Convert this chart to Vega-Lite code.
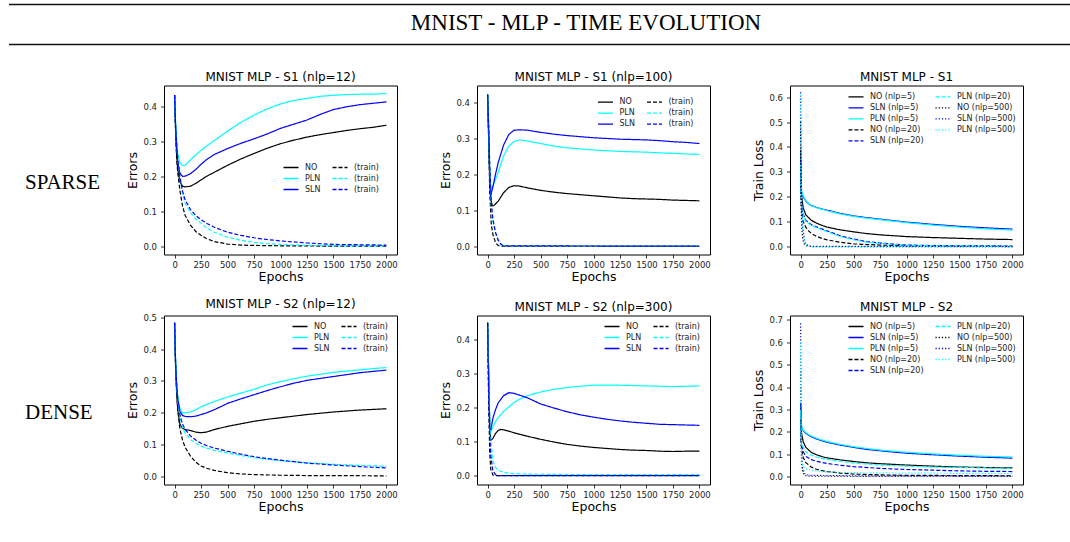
{
"$schema": "https://vega.github.io/schema/vega-lite/v6.json",
"background": "white",
"padding": {"left": 8, "top": 3.5, "right": 0, "bottom": 0},
"spacing": 24,
"config": {
 "font": "DejaVu Sans",
 "view": {"stroke": "#000", "strokeWidth": 1},
 "axis": {"domain": false, "grid": false, "tickColor": "#000", "tickSize": 3.5, "tickWidth": 0.8, "labelFont": "DejaVu Sans", "labelFontSize": 8.5, "labelColor": "#222", "labelPadding": 2, "titleFont": "DejaVu Sans", "titleFontSize": 12.5, "titleFontWeight": "normal", "titleColor": "#000", "titlePadding": 2, "labelFlush": false, "labelOverlap": false},
 "axisY": {"labelPadding": 4, "titlePadding": 3},
 "title": {"font": "DejaVu Sans", "fontSize": 12, "fontWeight": "normal", "offset": 2, "color": "#000"},
 "legend": {"labelFont": "DejaVu Sans", "labelFontSize": 8, "labelColor": "#222"}
},
"datasets": {
"d1": [
{"s":"NO","x":0,"y":0.434},{"s":"NO","x":10,"y":0.33},{"s":"NO","x":20,"y":0.26},{"s":"NO","x":30,"y":0.22},{"s":"NO","x":50,"y":0.185},{"s":"NO","x":75,"y":0.172},{"s":"NO","x":100,"y":0.17},{"s":"NO","x":150,"y":0.172},{"s":"NO","x":200,"y":0.18},{"s":"NO","x":250,"y":0.19},{"s":"NO","x":300,"y":0.2},{"s":"NO","x":375,"y":0.212},{"s":"NO","x":500,"y":0.232},{"s":"NO","x":625,"y":0.25},{"s":"NO","x":750,"y":0.266},{"s":"NO","x":875,"y":0.281},{"s":"NO","x":1000,"y":0.294},{"s":"NO","x":1125,"y":0.304},{"s":"NO","x":1250,"y":0.313},{"s":"NO","x":1375,"y":0.32},{"s":"NO","x":1500,"y":0.326},{"s":"NO","x":1625,"y":0.332},{"s":"NO","x":1750,"y":0.337},{"s":"NO","x":1875,"y":0.341},{"s":"NO","x":2000,"y":0.347},
{"s":"PLN","x":0,"y":0.434},{"s":"PLN","x":10,"y":0.35},{"s":"PLN","x":20,"y":0.3},{"s":"PLN","x":30,"y":0.265},{"s":"PLN","x":50,"y":0.24},{"s":"PLN","x":75,"y":0.231},{"s":"PLN","x":100,"y":0.232},{"s":"PLN","x":150,"y":0.248},{"s":"PLN","x":200,"y":0.262},{"s":"PLN","x":250,"y":0.275},{"s":"PLN","x":300,"y":0.287},{"s":"PLN","x":375,"y":0.303},{"s":"PLN","x":500,"y":0.33},{"s":"PLN","x":625,"y":0.355},{"s":"PLN","x":750,"y":0.376},{"s":"PLN","x":875,"y":0.394},{"s":"PLN","x":1000,"y":0.408},{"s":"PLN","x":1125,"y":0.418},{"s":"PLN","x":1250,"y":0.424},{"s":"PLN","x":1375,"y":0.43},{"s":"PLN","x":1500,"y":0.433},{"s":"PLN","x":1625,"y":0.435},{"s":"PLN","x":1750,"y":0.436},{"s":"PLN","x":1875,"y":0.436},{"s":"PLN","x":2000,"y":0.438},
{"s":"SLN","x":0,"y":0.434},{"s":"SLN","x":10,"y":0.34},{"s":"SLN","x":20,"y":0.28},{"s":"SLN","x":30,"y":0.24},{"s":"SLN","x":50,"y":0.21},{"s":"SLN","x":75,"y":0.2},{"s":"SLN","x":100,"y":0.201},{"s":"SLN","x":150,"y":0.208},{"s":"SLN","x":200,"y":0.22},{"s":"SLN","x":250,"y":0.235},{"s":"SLN","x":300,"y":0.248},{"s":"SLN","x":375,"y":0.263},{"s":"SLN","x":500,"y":0.28},{"s":"SLN","x":625,"y":0.295},{"s":"SLN","x":750,"y":0.308},{"s":"SLN","x":875,"y":0.322},{"s":"SLN","x":1000,"y":0.338},{"s":"SLN","x":1125,"y":0.35},{"s":"SLN","x":1250,"y":0.362},{"s":"SLN","x":1375,"y":0.378},{"s":"SLN","x":1500,"y":0.392},{"s":"SLN","x":1625,"y":0.4},{"s":"SLN","x":1750,"y":0.406},{"s":"SLN","x":1875,"y":0.41},{"s":"SLN","x":2000,"y":0.414},
{"s":"NO (train)","x":0,"y":0.434},{"s":"NO (train)","x":10,"y":0.32},{"s":"NO (train)","x":20,"y":0.25},{"s":"NO (train)","x":30,"y":0.21},{"s":"NO (train)","x":50,"y":0.16},{"s":"NO (train)","x":75,"y":0.115},{"s":"NO (train)","x":100,"y":0.088},{"s":"NO (train)","x":150,"y":0.06},{"s":"NO (train)","x":200,"y":0.042},{"s":"NO (train)","x":250,"y":0.031},{"s":"NO (train)","x":300,"y":0.022},{"s":"NO (train)","x":375,"y":0.013},{"s":"NO (train)","x":500,"y":0.006},{"s":"NO (train)","x":625,"y":0.003},{"s":"NO (train)","x":750,"y":0.002},{"s":"NO (train)","x":1000,"y":0.001},{"s":"NO (train)","x":1500,"y":0.0},{"s":"NO (train)","x":2000,"y":0.0},
{"s":"PLN (train)","x":0,"y":0.434},{"s":"PLN (train)","x":10,"y":0.34},{"s":"PLN (train)","x":20,"y":0.29},{"s":"PLN (train)","x":30,"y":0.25},{"s":"PLN (train)","x":50,"y":0.195},{"s":"PLN (train)","x":75,"y":0.15},{"s":"PLN (train)","x":100,"y":0.122},{"s":"PLN (train)","x":150,"y":0.097},{"s":"PLN (train)","x":200,"y":0.078},{"s":"PLN (train)","x":250,"y":0.066},{"s":"PLN (train)","x":300,"y":0.053},{"s":"PLN (train)","x":375,"y":0.04},{"s":"PLN (train)","x":500,"y":0.026},{"s":"PLN (train)","x":625,"y":0.017},{"s":"PLN (train)","x":750,"y":0.011},{"s":"PLN (train)","x":875,"y":0.007},{"s":"PLN (train)","x":1000,"y":0.005},{"s":"PLN (train)","x":1250,"y":0.002},{"s":"PLN (train)","x":1500,"y":0.001},{"s":"PLN (train)","x":2000,"y":0.001},
{"s":"SLN (train)","x":0,"y":0.434},{"s":"SLN (train)","x":10,"y":0.34},{"s":"SLN (train)","x":20,"y":0.29},{"s":"SLN (train)","x":30,"y":0.25},{"s":"SLN (train)","x":50,"y":0.2},{"s":"SLN (train)","x":75,"y":0.158},{"s":"SLN (train)","x":100,"y":0.132},{"s":"SLN (train)","x":150,"y":0.105},{"s":"SLN (train)","x":200,"y":0.088},{"s":"SLN (train)","x":250,"y":0.076},{"s":"SLN (train)","x":300,"y":0.066},{"s":"SLN (train)","x":375,"y":0.054},{"s":"SLN (train)","x":500,"y":0.04},{"s":"SLN (train)","x":625,"y":0.031},{"s":"SLN (train)","x":750,"y":0.024},{"s":"SLN (train)","x":875,"y":0.019},{"s":"SLN (train)","x":1000,"y":0.015},{"s":"SLN (train)","x":1250,"y":0.009},{"s":"SLN (train)","x":1500,"y":0.005},{"s":"SLN (train)","x":1750,"y":0.004},{"s":"SLN (train)","x":2000,"y":0.003}
],
"d2": [
{"s":"NO","x":0,"y":0.421},{"s":"NO","x":10,"y":0.3},{"s":"NO","x":20,"y":0.19},{"s":"NO","x":30,"y":0.13},{"s":"NO","x":45,"y":0.112},{"s":"NO","x":60,"y":0.113},{"s":"NO","x":100,"y":0.125},{"s":"NO","x":150,"y":0.148},{"s":"NO","x":200,"y":0.163},{"s":"NO","x":250,"y":0.168},{"s":"NO","x":300,"y":0.167},{"s":"NO","x":375,"y":0.162},{"s":"NO","x":500,"y":0.155},{"s":"NO","x":625,"y":0.15},{"s":"NO","x":750,"y":0.146},{"s":"NO","x":875,"y":0.143},{"s":"NO","x":1000,"y":0.14},{"s":"NO","x":1125,"y":0.137},{"s":"NO","x":1250,"y":0.134},{"s":"NO","x":1375,"y":0.132},{"s":"NO","x":1500,"y":0.131},{"s":"NO","x":1625,"y":0.13},{"s":"NO","x":1750,"y":0.128},{"s":"NO","x":1875,"y":0.127},{"s":"NO","x":2000,"y":0.126},
{"s":"PLN","x":0,"y":0.421},{"s":"PLN","x":10,"y":0.32},{"s":"PLN","x":20,"y":0.2},{"s":"PLN","x":30,"y":0.148},{"s":"PLN","x":50,"y":0.165},{"s":"PLN","x":75,"y":0.185},{"s":"PLN","x":100,"y":0.205},{"s":"PLN","x":150,"y":0.25},{"s":"PLN","x":200,"y":0.278},{"s":"PLN","x":250,"y":0.291},{"s":"PLN","x":300,"y":0.295},{"s":"PLN","x":375,"y":0.292},{"s":"PLN","x":500,"y":0.285},{"s":"PLN","x":625,"y":0.278},{"s":"PLN","x":750,"y":0.273},{"s":"PLN","x":875,"y":0.27},{"s":"PLN","x":1000,"y":0.267},{"s":"PLN","x":1125,"y":0.265},{"s":"PLN","x":1250,"y":0.263},{"s":"PLN","x":1375,"y":0.262},{"s":"PLN","x":1500,"y":0.261},{"s":"PLN","x":1625,"y":0.259},{"s":"PLN","x":1750,"y":0.258},{"s":"PLN","x":1875,"y":0.256},{"s":"PLN","x":2000,"y":0.255},
{"s":"SLN","x":0,"y":0.421},{"s":"SLN","x":10,"y":0.32},{"s":"SLN","x":20,"y":0.2},{"s":"SLN","x":30,"y":0.14},{"s":"SLN","x":50,"y":0.165},{"s":"SLN","x":75,"y":0.2},{"s":"SLN","x":100,"y":0.232},{"s":"SLN","x":150,"y":0.28},{"s":"SLN","x":200,"y":0.31},{"s":"SLN","x":250,"y":0.322},{"s":"SLN","x":300,"y":0.323},{"s":"SLN","x":375,"y":0.322},{"s":"SLN","x":500,"y":0.316},{"s":"SLN","x":625,"y":0.311},{"s":"SLN","x":750,"y":0.307},{"s":"SLN","x":875,"y":0.304},{"s":"SLN","x":1000,"y":0.301},{"s":"SLN","x":1125,"y":0.299},{"s":"SLN","x":1250,"y":0.297},{"s":"SLN","x":1375,"y":0.296},{"s":"SLN","x":1500,"y":0.295},{"s":"SLN","x":1625,"y":0.293},{"s":"SLN","x":1750,"y":0.29},{"s":"SLN","x":1875,"y":0.288},{"s":"SLN","x":2000,"y":0.285},
{"s":"NO (train)","x":0,"y":0.421},{"s":"NO (train)","x":10,"y":0.3},{"s":"NO (train)","x":20,"y":0.15},{"s":"NO (train)","x":35,"y":0.06},{"s":"NO (train)","x":50,"y":0.033},{"s":"NO (train)","x":75,"y":0.01},{"s":"NO (train)","x":100,"y":0.002},{"s":"NO (train)","x":125,"y":0.0},{"s":"NO (train)","x":2000,"y":0.0},
{"s":"PLN (train)","x":0,"y":0.421},{"s":"PLN (train)","x":10,"y":0.33},{"s":"PLN (train)","x":20,"y":0.22},{"s":"PLN (train)","x":35,"y":0.11},{"s":"PLN (train)","x":50,"y":0.07},{"s":"PLN (train)","x":75,"y":0.035},{"s":"PLN (train)","x":100,"y":0.015},{"s":"PLN (train)","x":125,"y":0.005},{"s":"PLN (train)","x":150,"y":0.001},{"s":"PLN (train)","x":2000,"y":0.0},
{"s":"SLN (train)","x":0,"y":0.421},{"s":"SLN (train)","x":10,"y":0.34},{"s":"SLN (train)","x":20,"y":0.23},{"s":"SLN (train)","x":35,"y":0.12},{"s":"SLN (train)","x":50,"y":0.075},{"s":"SLN (train)","x":75,"y":0.038},{"s":"SLN (train)","x":100,"y":0.017},{"s":"SLN (train)","x":125,"y":0.006},{"s":"SLN (train)","x":150,"y":0.001},{"s":"SLN (train)","x":2000,"y":0.0}
],
"d3": [
{"s":"NO (nlp=5)","x":0,"y":0.388},{"s":"NO (nlp=5)","x":5,"y":0.25},{"s":"NO (nlp=5)","x":10,"y":0.2},{"s":"NO (nlp=5)","x":25,"y":0.155},{"s":"NO (nlp=5)","x":50,"y":0.127},{"s":"NO (nlp=5)","x":100,"y":0.106},{"s":"NO (nlp=5)","x":150,"y":0.094},{"s":"NO (nlp=5)","x":200,"y":0.085},{"s":"NO (nlp=5)","x":250,"y":0.078},{"s":"NO (nlp=5)","x":375,"y":0.067},{"s":"NO (nlp=5)","x":500,"y":0.059},{"s":"NO (nlp=5)","x":625,"y":0.052},{"s":"NO (nlp=5)","x":750,"y":0.047},{"s":"NO (nlp=5)","x":1000,"y":0.04},{"s":"NO (nlp=5)","x":1250,"y":0.036},{"s":"NO (nlp=5)","x":1500,"y":0.033},{"s":"NO (nlp=5)","x":1750,"y":0.03},{"s":"NO (nlp=5)","x":2000,"y":0.028},
{"s":"SLN (nlp=5)","x":0,"y":0.28},{"s":"SLN (nlp=5)","x":5,"y":0.23},{"s":"SLN (nlp=5)","x":10,"y":0.216},{"s":"SLN (nlp=5)","x":25,"y":0.2},{"s":"SLN (nlp=5)","x":50,"y":0.182},{"s":"SLN (nlp=5)","x":75,"y":0.172},{"s":"SLN (nlp=5)","x":100,"y":0.165},{"s":"SLN (nlp=5)","x":150,"y":0.157},{"s":"SLN (nlp=5)","x":200,"y":0.151},{"s":"SLN (nlp=5)","x":250,"y":0.146},{"s":"SLN (nlp=5)","x":375,"y":0.133},{"s":"SLN (nlp=5)","x":500,"y":0.123},{"s":"SLN (nlp=5)","x":625,"y":0.116},{"s":"SLN (nlp=5)","x":750,"y":0.11},{"s":"SLN (nlp=5)","x":875,"y":0.104},{"s":"SLN (nlp=5)","x":1000,"y":0.098},{"s":"SLN (nlp=5)","x":1250,"y":0.089},{"s":"SLN (nlp=5)","x":1500,"y":0.081},{"s":"SLN (nlp=5)","x":1750,"y":0.075},{"s":"SLN (nlp=5)","x":2000,"y":0.07},
{"s":"PLN (nlp=5)","x":0,"y":0.3},{"s":"PLN (nlp=5)","x":5,"y":0.235},{"s":"PLN (nlp=5)","x":10,"y":0.22},{"s":"PLN (nlp=5)","x":25,"y":0.203},{"s":"PLN (nlp=5)","x":50,"y":0.184},{"s":"PLN (nlp=5)","x":75,"y":0.173},{"s":"PLN (nlp=5)","x":100,"y":0.165},{"s":"PLN (nlp=5)","x":150,"y":0.156},{"s":"PLN (nlp=5)","x":200,"y":0.15},{"s":"PLN (nlp=5)","x":250,"y":0.144},{"s":"PLN (nlp=5)","x":375,"y":0.131},{"s":"PLN (nlp=5)","x":500,"y":0.121},{"s":"PLN (nlp=5)","x":625,"y":0.114},{"s":"PLN (nlp=5)","x":750,"y":0.108},{"s":"PLN (nlp=5)","x":875,"y":0.102},{"s":"PLN (nlp=5)","x":1000,"y":0.096},{"s":"PLN (nlp=5)","x":1250,"y":0.086},{"s":"PLN (nlp=5)","x":1500,"y":0.078},{"s":"PLN (nlp=5)","x":1750,"y":0.071},{"s":"PLN (nlp=5)","x":2000,"y":0.066},
{"s":"NO (nlp=20)","x":0,"y":0.3},{"s":"NO (nlp=20)","x":5,"y":0.18},{"s":"NO (nlp=20)","x":10,"y":0.14},{"s":"NO (nlp=20)","x":25,"y":0.1},{"s":"NO (nlp=20)","x":50,"y":0.077},{"s":"NO (nlp=20)","x":75,"y":0.063},{"s":"NO (nlp=20)","x":100,"y":0.053},{"s":"NO (nlp=20)","x":150,"y":0.041},{"s":"NO (nlp=20)","x":200,"y":0.033},{"s":"NO (nlp=20)","x":250,"y":0.027},{"s":"NO (nlp=20)","x":375,"y":0.017},{"s":"NO (nlp=20)","x":500,"y":0.011},{"s":"NO (nlp=20)","x":625,"y":0.008},{"s":"NO (nlp=20)","x":750,"y":0.006},{"s":"NO (nlp=20)","x":1000,"y":0.003},{"s":"NO (nlp=20)","x":1500,"y":0.001},{"s":"NO (nlp=20)","x":2000,"y":0.001},
{"s":"SLN (nlp=20)","x":0,"y":0.35},{"s":"SLN (nlp=20)","x":5,"y":0.2},{"s":"SLN (nlp=20)","x":10,"y":0.16},{"s":"SLN (nlp=20)","x":25,"y":0.13},{"s":"SLN (nlp=20)","x":50,"y":0.105},{"s":"SLN (nlp=20)","x":100,"y":0.088},{"s":"SLN (nlp=20)","x":150,"y":0.079},{"s":"SLN (nlp=20)","x":200,"y":0.071},{"s":"SLN (nlp=20)","x":250,"y":0.063},{"s":"SLN (nlp=20)","x":375,"y":0.043},{"s":"SLN (nlp=20)","x":500,"y":0.03},{"s":"SLN (nlp=20)","x":625,"y":0.02},{"s":"SLN (nlp=20)","x":750,"y":0.014},{"s":"SLN (nlp=20)","x":875,"y":0.01},{"s":"SLN (nlp=20)","x":1000,"y":0.006},{"s":"SLN (nlp=20)","x":1250,"y":0.004},{"s":"SLN (nlp=20)","x":1500,"y":0.003},{"s":"SLN (nlp=20)","x":2000,"y":0.002},
{"s":"PLN (nlp=20)","x":0,"y":0.33},{"s":"PLN (nlp=20)","x":5,"y":0.19},{"s":"PLN (nlp=20)","x":10,"y":0.155},{"s":"PLN (nlp=20)","x":25,"y":0.125},{"s":"PLN (nlp=20)","x":50,"y":0.1},{"s":"PLN (nlp=20)","x":100,"y":0.085},{"s":"PLN (nlp=20)","x":150,"y":0.076},{"s":"PLN (nlp=20)","x":200,"y":0.068},{"s":"PLN (nlp=20)","x":250,"y":0.06},{"s":"PLN (nlp=20)","x":375,"y":0.04},{"s":"PLN (nlp=20)","x":500,"y":0.027},{"s":"PLN (nlp=20)","x":625,"y":0.018},{"s":"PLN (nlp=20)","x":750,"y":0.012},{"s":"PLN (nlp=20)","x":1000,"y":0.005},{"s":"PLN (nlp=20)","x":1250,"y":0.003},{"s":"PLN (nlp=20)","x":2000,"y":0.001},
{"s":"NO (nlp=500)","x":0,"y":0.5},{"s":"NO (nlp=500)","x":3,"y":0.3},{"s":"NO (nlp=500)","x":6,"y":0.15},{"s":"NO (nlp=500)","x":10,"y":0.08},{"s":"NO (nlp=500)","x":20,"y":0.03},{"s":"NO (nlp=500)","x":35,"y":0.01},{"s":"NO (nlp=500)","x":50,"y":0.004},{"s":"NO (nlp=500)","x":75,"y":0.001},{"s":"NO (nlp=500)","x":100,"y":0.0},{"s":"NO (nlp=500)","x":2000,"y":0.0},
{"s":"SLN (nlp=500)","x":0,"y":0.62},{"s":"SLN (nlp=500)","x":3,"y":0.45},{"s":"SLN (nlp=500)","x":6,"y":0.3},{"s":"SLN (nlp=500)","x":10,"y":0.2},{"s":"SLN (nlp=500)","x":20,"y":0.08},{"s":"SLN (nlp=500)","x":35,"y":0.03},{"s":"SLN (nlp=500)","x":50,"y":0.01},{"s":"SLN (nlp=500)","x":75,"y":0.003},{"s":"SLN (nlp=500)","x":100,"y":0.001},{"s":"SLN (nlp=500)","x":2000,"y":0.0},
{"s":"PLN (nlp=500)","x":0,"y":0.61},{"s":"PLN (nlp=500)","x":3,"y":0.4},{"s":"PLN (nlp=500)","x":6,"y":0.27},{"s":"PLN (nlp=500)","x":10,"y":0.18},{"s":"PLN (nlp=500)","x":20,"y":0.07},{"s":"PLN (nlp=500)","x":35,"y":0.025},{"s":"PLN (nlp=500)","x":50,"y":0.008},{"s":"PLN (nlp=500)","x":75,"y":0.002},{"s":"PLN (nlp=500)","x":100,"y":0.0},{"s":"PLN (nlp=500)","x":2000,"y":0.0}
],
"d4": [
{"s":"NO","x":0,"y":0.482},{"s":"NO","x":10,"y":0.34},{"s":"NO","x":20,"y":0.26},{"s":"NO","x":30,"y":0.21},{"s":"NO","x":50,"y":0.165},{"s":"NO","x":75,"y":0.152},{"s":"NO","x":100,"y":0.148},{"s":"NO","x":150,"y":0.145},{"s":"NO","x":200,"y":0.14},{"s":"NO","x":250,"y":0.138},{"s":"NO","x":300,"y":0.14},{"s":"NO","x":375,"y":0.148},{"s":"NO","x":500,"y":0.158},{"s":"NO","x":625,"y":0.166},{"s":"NO","x":750,"y":0.174},{"s":"NO","x":875,"y":0.18},{"s":"NO","x":1000,"y":0.185},{"s":"NO","x":1125,"y":0.19},{"s":"NO","x":1250,"y":0.195},{"s":"NO","x":1375,"y":0.199},{"s":"NO","x":1500,"y":0.203},{"s":"NO","x":1625,"y":0.206},{"s":"NO","x":1750,"y":0.209},{"s":"NO","x":1875,"y":0.211},{"s":"NO","x":2000,"y":0.213},
{"s":"PLN","x":0,"y":0.482},{"s":"PLN","x":10,"y":0.36},{"s":"PLN","x":20,"y":0.29},{"s":"PLN","x":30,"y":0.25},{"s":"PLN","x":50,"y":0.215},{"s":"PLN","x":75,"y":0.2},{"s":"PLN","x":100,"y":0.2},{"s":"PLN","x":150,"y":0.203},{"s":"PLN","x":200,"y":0.21},{"s":"PLN","x":250,"y":0.219},{"s":"PLN","x":300,"y":0.226},{"s":"PLN","x":375,"y":0.236},{"s":"PLN","x":500,"y":0.25},{"s":"PLN","x":625,"y":0.262},{"s":"PLN","x":750,"y":0.274},{"s":"PLN","x":875,"y":0.288},{"s":"PLN","x":1000,"y":0.298},{"s":"PLN","x":1125,"y":0.307},{"s":"PLN","x":1250,"y":0.315},{"s":"PLN","x":1375,"y":0.321},{"s":"PLN","x":1500,"y":0.327},{"s":"PLN","x":1625,"y":0.331},{"s":"PLN","x":1750,"y":0.335},{"s":"PLN","x":1875,"y":0.339},{"s":"PLN","x":2000,"y":0.342},
{"s":"SLN","x":0,"y":0.482},{"s":"SLN","x":10,"y":0.35},{"s":"SLN","x":20,"y":0.28},{"s":"SLN","x":30,"y":0.24},{"s":"SLN","x":50,"y":0.205},{"s":"SLN","x":75,"y":0.192},{"s":"SLN","x":100,"y":0.189},{"s":"SLN","x":150,"y":0.188},{"s":"SLN","x":200,"y":0.19},{"s":"SLN","x":250,"y":0.195},{"s":"SLN","x":300,"y":0.2},{"s":"SLN","x":375,"y":0.21},{"s":"SLN","x":500,"y":0.23},{"s":"SLN","x":625,"y":0.244},{"s":"SLN","x":750,"y":0.257},{"s":"SLN","x":875,"y":0.27},{"s":"SLN","x":1000,"y":0.282},{"s":"SLN","x":1125,"y":0.293},{"s":"SLN","x":1250,"y":0.302},{"s":"SLN","x":1375,"y":0.308},{"s":"SLN","x":1500,"y":0.314},{"s":"SLN","x":1625,"y":0.32},{"s":"SLN","x":1750,"y":0.326},{"s":"SLN","x":1875,"y":0.33},{"s":"SLN","x":2000,"y":0.334},
{"s":"NO (train)","x":0,"y":0.482},{"s":"NO (train)","x":10,"y":0.33},{"s":"NO (train)","x":20,"y":0.26},{"s":"NO (train)","x":30,"y":0.21},{"s":"NO (train)","x":50,"y":0.15},{"s":"NO (train)","x":75,"y":0.115},{"s":"NO (train)","x":100,"y":0.092},{"s":"NO (train)","x":150,"y":0.065},{"s":"NO (train)","x":200,"y":0.046},{"s":"NO (train)","x":250,"y":0.034},{"s":"NO (train)","x":300,"y":0.027},{"s":"NO (train)","x":375,"y":0.02},{"s":"NO (train)","x":500,"y":0.013},{"s":"NO (train)","x":625,"y":0.009},{"s":"NO (train)","x":750,"y":0.007},{"s":"NO (train)","x":1000,"y":0.005},{"s":"NO (train)","x":1250,"y":0.004},{"s":"NO (train)","x":1500,"y":0.004},{"s":"NO (train)","x":2000,"y":0.003},
{"s":"PLN (train)","x":0,"y":0.482},{"s":"PLN (train)","x":10,"y":0.35},{"s":"PLN (train)","x":20,"y":0.28},{"s":"PLN (train)","x":30,"y":0.235},{"s":"PLN (train)","x":50,"y":0.185},{"s":"PLN (train)","x":75,"y":0.155},{"s":"PLN (train)","x":100,"y":0.137},{"s":"PLN (train)","x":150,"y":0.117},{"s":"PLN (train)","x":200,"y":0.105},{"s":"PLN (train)","x":250,"y":0.096},{"s":"PLN (train)","x":300,"y":0.09},{"s":"PLN (train)","x":375,"y":0.083},{"s":"PLN (train)","x":500,"y":0.075},{"s":"PLN (train)","x":625,"y":0.067},{"s":"PLN (train)","x":750,"y":0.06},{"s":"PLN (train)","x":875,"y":0.055},{"s":"PLN (train)","x":1000,"y":0.051},{"s":"PLN (train)","x":1250,"y":0.044},{"s":"PLN (train)","x":1500,"y":0.039},{"s":"PLN (train)","x":1750,"y":0.036},{"s":"PLN (train)","x":2000,"y":0.033},
{"s":"SLN (train)","x":0,"y":0.482},{"s":"SLN (train)","x":10,"y":0.35},{"s":"SLN (train)","x":20,"y":0.29},{"s":"SLN (train)","x":30,"y":0.245},{"s":"SLN (train)","x":50,"y":0.195},{"s":"SLN (train)","x":75,"y":0.165},{"s":"SLN (train)","x":100,"y":0.148},{"s":"SLN (train)","x":150,"y":0.128},{"s":"SLN (train)","x":200,"y":0.115},{"s":"SLN (train)","x":250,"y":0.105},{"s":"SLN (train)","x":300,"y":0.098},{"s":"SLN (train)","x":375,"y":0.09},{"s":"SLN (train)","x":500,"y":0.08},{"s":"SLN (train)","x":625,"y":0.071},{"s":"SLN (train)","x":750,"y":0.063},{"s":"SLN (train)","x":875,"y":0.057},{"s":"SLN (train)","x":1000,"y":0.052},{"s":"SLN (train)","x":1250,"y":0.043},{"s":"SLN (train)","x":1500,"y":0.037},{"s":"SLN (train)","x":1750,"y":0.032},{"s":"SLN (train)","x":2000,"y":0.028}
],
"d5": [
{"s":"NO","x":0,"y":0.451},{"s":"NO","x":10,"y":0.3},{"s":"NO","x":20,"y":0.15},{"s":"NO","x":30,"y":0.105},{"s":"NO","x":50,"y":0.11},{"s":"NO","x":75,"y":0.125},{"s":"NO","x":100,"y":0.134},{"s":"NO","x":125,"y":0.137},{"s":"NO","x":150,"y":0.136},{"s":"NO","x":200,"y":0.132},{"s":"NO","x":250,"y":0.127},{"s":"NO","x":375,"y":0.117},{"s":"NO","x":500,"y":0.108},{"s":"NO","x":625,"y":0.1},{"s":"NO","x":750,"y":0.093},{"s":"NO","x":875,"y":0.088},{"s":"NO","x":1000,"y":0.084},{"s":"NO","x":1125,"y":0.081},{"s":"NO","x":1250,"y":0.078},{"s":"NO","x":1375,"y":0.076},{"s":"NO","x":1500,"y":0.075},{"s":"NO","x":1625,"y":0.073},{"s":"NO","x":1750,"y":0.072},{"s":"NO","x":1875,"y":0.073},{"s":"NO","x":2000,"y":0.073},
{"s":"PLN","x":0,"y":0.451},{"s":"PLN","x":10,"y":0.3},{"s":"PLN","x":20,"y":0.15},{"s":"PLN","x":30,"y":0.13},{"s":"PLN","x":50,"y":0.145},{"s":"PLN","x":75,"y":0.16},{"s":"PLN","x":100,"y":0.172},{"s":"PLN","x":150,"y":0.19},{"s":"PLN","x":200,"y":0.203},{"s":"PLN","x":250,"y":0.216},{"s":"PLN","x":300,"y":0.226},{"s":"PLN","x":375,"y":0.236},{"s":"PLN","x":500,"y":0.247},{"s":"PLN","x":625,"y":0.255},{"s":"PLN","x":750,"y":0.26},{"s":"PLN","x":875,"y":0.264},{"s":"PLN","x":1000,"y":0.267},{"s":"PLN","x":1250,"y":0.267},{"s":"PLN","x":1500,"y":0.265},{"s":"PLN","x":1750,"y":0.263},{"s":"PLN","x":2000,"y":0.265},
{"s":"SLN","x":0,"y":0.451},{"s":"SLN","x":10,"y":0.3},{"s":"SLN","x":20,"y":0.15},{"s":"SLN","x":30,"y":0.135},{"s":"SLN","x":50,"y":0.17},{"s":"SLN","x":75,"y":0.195},{"s":"SLN","x":100,"y":0.215},{"s":"SLN","x":150,"y":0.236},{"s":"SLN","x":200,"y":0.245},{"s":"SLN","x":250,"y":0.243},{"s":"SLN","x":300,"y":0.238},{"s":"SLN","x":375,"y":0.23},{"s":"SLN","x":500,"y":0.212},{"s":"SLN","x":625,"y":0.2},{"s":"SLN","x":750,"y":0.189},{"s":"SLN","x":875,"y":0.18},{"s":"SLN","x":1000,"y":0.173},{"s":"SLN","x":1125,"y":0.167},{"s":"SLN","x":1250,"y":0.162},{"s":"SLN","x":1375,"y":0.158},{"s":"SLN","x":1500,"y":0.155},{"s":"SLN","x":1625,"y":0.152},{"s":"SLN","x":1750,"y":0.151},{"s":"SLN","x":1875,"y":0.15},{"s":"SLN","x":2000,"y":0.149},
{"s":"NO (train)","x":0,"y":0.451},{"s":"NO (train)","x":10,"y":0.22},{"s":"NO (train)","x":20,"y":0.07},{"s":"NO (train)","x":30,"y":0.02},{"s":"NO (train)","x":50,"y":0.003},{"s":"NO (train)","x":75,"y":0.001},{"s":"NO (train)","x":2000,"y":0.001},
{"s":"PLN (train)","x":0,"y":0.451},{"s":"PLN (train)","x":10,"y":0.3},{"s":"PLN (train)","x":25,"y":0.12},{"s":"PLN (train)","x":50,"y":0.045},{"s":"PLN (train)","x":75,"y":0.025},{"s":"PLN (train)","x":100,"y":0.017},{"s":"PLN (train)","x":150,"y":0.011},{"s":"PLN (train)","x":200,"y":0.008},{"s":"PLN (train)","x":300,"y":0.006},{"s":"PLN (train)","x":500,"y":0.005},{"s":"PLN (train)","x":1000,"y":0.004},{"s":"PLN (train)","x":2000,"y":0.004},
{"s":"SLN (train)","x":0,"y":0.451},{"s":"SLN (train)","x":10,"y":0.25},{"s":"SLN (train)","x":20,"y":0.12},{"s":"SLN (train)","x":30,"y":0.06},{"s":"SLN (train)","x":50,"y":0.015},{"s":"SLN (train)","x":75,"y":0.004},{"s":"SLN (train)","x":100,"y":0.001},{"s":"SLN (train)","x":2000,"y":0.001}
],
"d6": [
{"s":"NO (nlp=5)","x":0,"y":0.33},{"s":"NO (nlp=5)","x":5,"y":0.22},{"s":"NO (nlp=5)","x":10,"y":0.19},{"s":"NO (nlp=5)","x":25,"y":0.155},{"s":"NO (nlp=5)","x":50,"y":0.13},{"s":"NO (nlp=5)","x":100,"y":0.108},{"s":"NO (nlp=5)","x":150,"y":0.097},{"s":"NO (nlp=5)","x":200,"y":0.089},{"s":"NO (nlp=5)","x":250,"y":0.083},{"s":"NO (nlp=5)","x":375,"y":0.074},{"s":"NO (nlp=5)","x":500,"y":0.067},{"s":"NO (nlp=5)","x":625,"y":0.061},{"s":"NO (nlp=5)","x":750,"y":0.057},{"s":"NO (nlp=5)","x":1000,"y":0.051},{"s":"NO (nlp=5)","x":1250,"y":0.046},{"s":"NO (nlp=5)","x":1500,"y":0.042},{"s":"NO (nlp=5)","x":1750,"y":0.04},{"s":"NO (nlp=5)","x":2000,"y":0.038},
{"s":"SLN (nlp=5)","x":0,"y":0.33},{"s":"SLN (nlp=5)","x":5,"y":0.25},{"s":"SLN (nlp=5)","x":10,"y":0.22},{"s":"SLN (nlp=5)","x":25,"y":0.205},{"s":"SLN (nlp=5)","x":50,"y":0.193},{"s":"SLN (nlp=5)","x":75,"y":0.185},{"s":"SLN (nlp=5)","x":100,"y":0.178},{"s":"SLN (nlp=5)","x":150,"y":0.168},{"s":"SLN (nlp=5)","x":200,"y":0.16},{"s":"SLN (nlp=5)","x":250,"y":0.153},{"s":"SLN (nlp=5)","x":375,"y":0.14},{"s":"SLN (nlp=5)","x":500,"y":0.13},{"s":"SLN (nlp=5)","x":625,"y":0.121},{"s":"SLN (nlp=5)","x":750,"y":0.115},{"s":"SLN (nlp=5)","x":875,"y":0.109},{"s":"SLN (nlp=5)","x":1000,"y":0.104},{"s":"SLN (nlp=5)","x":1250,"y":0.097},{"s":"SLN (nlp=5)","x":1500,"y":0.091},{"s":"SLN (nlp=5)","x":1750,"y":0.086},{"s":"SLN (nlp=5)","x":2000,"y":0.082},
{"s":"PLN (nlp=5)","x":0,"y":0.28},{"s":"PLN (nlp=5)","x":5,"y":0.245},{"s":"PLN (nlp=5)","x":10,"y":0.222},{"s":"PLN (nlp=5)","x":25,"y":0.207},{"s":"PLN (nlp=5)","x":50,"y":0.196},{"s":"PLN (nlp=5)","x":75,"y":0.188},{"s":"PLN (nlp=5)","x":100,"y":0.181},{"s":"PLN (nlp=5)","x":150,"y":0.171},{"s":"PLN (nlp=5)","x":200,"y":0.163},{"s":"PLN (nlp=5)","x":250,"y":0.156},{"s":"PLN (nlp=5)","x":375,"y":0.143},{"s":"PLN (nlp=5)","x":500,"y":0.133},{"s":"PLN (nlp=5)","x":625,"y":0.125},{"s":"PLN (nlp=5)","x":750,"y":0.118},{"s":"PLN (nlp=5)","x":875,"y":0.113},{"s":"PLN (nlp=5)","x":1000,"y":0.108},{"s":"PLN (nlp=5)","x":1250,"y":0.101},{"s":"PLN (nlp=5)","x":1500,"y":0.095},{"s":"PLN (nlp=5)","x":1750,"y":0.09},{"s":"PLN (nlp=5)","x":2000,"y":0.087},
{"s":"NO (nlp=20)","x":0,"y":0.25},{"s":"NO (nlp=20)","x":5,"y":0.15},{"s":"NO (nlp=20)","x":10,"y":0.12},{"s":"NO (nlp=20)","x":25,"y":0.085},{"s":"NO (nlp=20)","x":50,"y":0.062},{"s":"NO (nlp=20)","x":100,"y":0.042},{"s":"NO (nlp=20)","x":150,"y":0.032},{"s":"NO (nlp=20)","x":200,"y":0.026},{"s":"NO (nlp=20)","x":250,"y":0.022},{"s":"NO (nlp=20)","x":375,"y":0.015},{"s":"NO (nlp=20)","x":500,"y":0.011},{"s":"NO (nlp=20)","x":750,"y":0.007},{"s":"NO (nlp=20)","x":1000,"y":0.005},{"s":"NO (nlp=20)","x":1500,"y":0.004},{"s":"NO (nlp=20)","x":2000,"y":0.003},
{"s":"SLN (nlp=20)","x":0,"y":0.3},{"s":"SLN (nlp=20)","x":5,"y":0.17},{"s":"SLN (nlp=20)","x":10,"y":0.14},{"s":"SLN (nlp=20)","x":25,"y":0.11},{"s":"SLN (nlp=20)","x":50,"y":0.09},{"s":"SLN (nlp=20)","x":100,"y":0.075},{"s":"SLN (nlp=20)","x":150,"y":0.068},{"s":"SLN (nlp=20)","x":250,"y":0.058},{"s":"SLN (nlp=20)","x":375,"y":0.05},{"s":"SLN (nlp=20)","x":500,"y":0.044},{"s":"SLN (nlp=20)","x":750,"y":0.036},{"s":"SLN (nlp=20)","x":1000,"y":0.031},{"s":"SLN (nlp=20)","x":1250,"y":0.028},{"s":"SLN (nlp=20)","x":1500,"y":0.025},{"s":"SLN (nlp=20)","x":1750,"y":0.023},{"s":"SLN (nlp=20)","x":2000,"y":0.022},
{"s":"PLN (nlp=20)","x":0,"y":0.3},{"s":"PLN (nlp=20)","x":5,"y":0.18},{"s":"PLN (nlp=20)","x":10,"y":0.15},{"s":"PLN (nlp=20)","x":25,"y":0.13},{"s":"PLN (nlp=20)","x":50,"y":0.11},{"s":"PLN (nlp=20)","x":100,"y":0.095},{"s":"PLN (nlp=20)","x":150,"y":0.087},{"s":"PLN (nlp=20)","x":250,"y":0.076},{"s":"PLN (nlp=20)","x":375,"y":0.067},{"s":"PLN (nlp=20)","x":500,"y":0.06},{"s":"PLN (nlp=20)","x":750,"y":0.051},{"s":"PLN (nlp=20)","x":1000,"y":0.046},{"s":"PLN (nlp=20)","x":1250,"y":0.042},{"s":"PLN (nlp=20)","x":1500,"y":0.04},{"s":"PLN (nlp=20)","x":1750,"y":0.038},{"s":"PLN (nlp=20)","x":2000,"y":0.036},
{"s":"NO (nlp=500)","x":0,"y":0.5},{"s":"NO (nlp=500)","x":3,"y":0.25},{"s":"NO (nlp=500)","x":6,"y":0.12},{"s":"NO (nlp=500)","x":10,"y":0.06},{"s":"NO (nlp=500)","x":20,"y":0.02},{"s":"NO (nlp=500)","x":35,"y":0.006},{"s":"NO (nlp=500)","x":50,"y":0.003},{"s":"NO (nlp=500)","x":100,"y":0.001},{"s":"NO (nlp=500)","x":2000,"y":0.001},
{"s":"SLN (nlp=500)","x":0,"y":0.685},{"s":"SLN (nlp=500)","x":3,"y":0.4},{"s":"SLN (nlp=500)","x":6,"y":0.2},{"s":"SLN (nlp=500)","x":10,"y":0.1},{"s":"SLN (nlp=500)","x":20,"y":0.04},{"s":"SLN (nlp=500)","x":35,"y":0.015},{"s":"SLN (nlp=500)","x":50,"y":0.008},{"s":"SLN (nlp=500)","x":100,"y":0.005},{"s":"SLN (nlp=500)","x":250,"y":0.004},{"s":"SLN (nlp=500)","x":500,"y":0.003},{"s":"SLN (nlp=500)","x":2000,"y":0.002},
{"s":"PLN (nlp=500)","x":0,"y":0.6},{"s":"PLN (nlp=500)","x":3,"y":0.3},{"s":"PLN (nlp=500)","x":6,"y":0.15},{"s":"PLN (nlp=500)","x":10,"y":0.08},{"s":"PLN (nlp=500)","x":20,"y":0.05},{"s":"PLN (nlp=500)","x":35,"y":0.04},{"s":"PLN (nlp=500)","x":50,"y":0.034},{"s":"PLN (nlp=500)","x":100,"y":0.027},{"s":"PLN (nlp=500)","x":150,"y":0.024},{"s":"PLN (nlp=500)","x":250,"y":0.02},{"s":"PLN (nlp=500)","x":500,"y":0.017},{"s":"PLN (nlp=500)","x":1000,"y":0.015},{"s":"PLN (nlp=500)","x":1500,"y":0.014},{"s":"PLN (nlp=500)","x":2000,"y":0.013}
]
},
"vconcat": [
{
 "width": 1062, "height": 40,
 "view": {"stroke": null},
 "data": {"values": [{"t": "MNIST - MLP - TIME EVOLUTION"}]},
 "layer": [
  {"mark": {"type": "rule", "strokeWidth": 1.5, "color": "#111"},
   "encoding": {"x": {"datum": 0, "type": "quantitative", "scale": {"domain": [0, 1]}, "axis": null}, "x2": {"datum": 1}, "y": {"datum": 1, "type": "quantitative", "scale": {"domain": [0, 1]}, "axis": null}}},
  {"mark": {"type": "rule", "strokeWidth": 1.5, "color": "#111"},
   "encoding": {"x": {"datum": 0, "type": "quantitative", "scale": {"domain": [0, 1]}, "axis": null}, "x2": {"datum": 1}, "y": {"datum": 0, "type": "quantitative", "scale": {"domain": [0, 1]}, "axis": null}}},
  {"mark": {"type": "text", "font": "Liberation Serif", "fontSize": 23, "color": "#000"},
   "encoding": {"text": {"field": "t"}, "x": {"datum": 0.5433, "type": "quantitative", "scale": {"domain": [0, 1]}, "axis": null}, "y": {"datum": 0.5375, "type": "quantitative", "scale": {"domain": [0, 1]}, "axis": null}}}
 ]
},
{
 "columns": 4,
 "bounds": "flush",
 "spacing": {"row": 61, "column": 80},
 "resolve": {"scale": {"color": "independent", "strokeDash": "independent", "x": "independent", "y": "independent"}, "legend": {"color": "independent", "strokeDash": "independent"}},
 "concat": [
  {
   "width": 75, "height": 169,
   "view": {"stroke": null, "fill": "white"},
   "data": {"values": [{"t": "SPARSE"}]},
   "mark": {"type": "text", "font": "Liberation Serif", "fontSize": 21, "color": "#000", "align": "left"},
   "encoding": {"text": {"field": "t"}, "x": {"datum": 0.2133, "type": "quantitative", "scale": {"domain": [0, 1]}, "axis": null}, "y": {"datum": 0.426, "type": "quantitative", "scale": {"domain": [0, 1]}, "axis": null}}
  },
  {
   "width": 233, "height": 169,
   "data": {"name": "d1"},
   "title": "MNIST MLP - S1 (nlp=12)",
   "mark": {"type": "line", "strokeWidth": 1.2, "clip": true},
   "encoding": {
    "x": {"field": "x", "type": "quantitative", "scale": {"domain": [-100, 2100], "nice": false, "zero": false}, "axis": {"title": "Epochs", "format": "d", "values": [0, 250, 500, 750, 1000, 1250, 1500, 1750, 2000]}},
    "y": {"field": "y", "type": "quantitative", "scale": {"domain": [-0.024, 0.461], "nice": false, "zero": false}, "axis": {"title": "Errors", "values": [0, 0.1, 0.2, 0.3, 0.4], "format": ".1f"}},
    "color": {"field": "s", "type": "nominal", "scale": {"domain": ["NO", "PLN", "SLN", "NO (train)", "PLN (train)", "SLN (train)"], "range": ["#000000", "#00ffff", "#0000ff", "#000000", "#00ffff", "#0000ff"]},
     "legend": {"orient": "none", "legendX": 121, "legendY": 76, "columns": 2, "columnPadding": 8, "rowPadding": 1, "symbolType": "M-1.5,0H1.5", "symbolSize": 100, "symbolStrokeWidth": 1.3, "labelOffset": 8, "labelExpr": "indexof(datum.label,'train')>=0?'(train)':datum.label", "title": null, "padding": 0}},
    "strokeDash": {"field": "s", "type": "nominal", "scale": {"domain": ["NO", "PLN", "SLN", "NO (train)", "PLN (train)", "SLN (train)"], "range": [[1, 0], [1, 0], [1, 0], [4, 2], [4, 2], [4, 2]]},
     "legend": {"orient": "none", "legendX": 121, "legendY": 76, "columns": 2, "columnPadding": 8, "rowPadding": 1, "symbolType": "M-1.5,0H1.5", "symbolSize": 100, "symbolStrokeWidth": 1.3, "labelOffset": 8, "labelExpr": "indexof(datum.label,'train')>=0?'(train)':datum.label", "title": null, "padding": 0}}
   }
  },
  {
   "width": 233, "height": 169,
   "data": {"name": "d2"},
   "title": "MNIST MLP - S1 (nlp=100)",
   "mark": {"type": "line", "strokeWidth": 1.2, "clip": true},
   "encoding": {
    "x": {"field": "x", "type": "quantitative", "scale": {"domain": [-100, 2100], "nice": false, "zero": false}, "axis": {"title": "Epochs", "format": "d", "values": [0, 250, 500, 750, 1000, 1250, 1500, 1750, 2000]}},
    "y": {"field": "y", "type": "quantitative", "scale": {"domain": [-0.023, 0.446], "nice": false, "zero": false}, "axis": {"title": "Errors", "values": [0, 0.1, 0.2, 0.3, 0.4], "format": ".1f"}},
    "color": {"field": "s", "type": "nominal", "scale": {"domain": ["NO", "PLN", "SLN", "NO (train)", "PLN (train)", "SLN (train)"], "range": ["#000000", "#00ffff", "#0000ff", "#000000", "#00ffff", "#0000ff"]},
     "legend": {"orient": "none", "legendX": 122.5, "legendY": 10.6, "columns": 2, "columnPadding": 8, "rowPadding": 1, "symbolType": "M-1.5,0H1.5", "symbolSize": 100, "symbolStrokeWidth": 1.3, "labelOffset": 8, "labelExpr": "indexof(datum.label,'train')>=0?'(train)':datum.label", "title": null, "padding": 0}},
    "strokeDash": {"field": "s", "type": "nominal", "scale": {"domain": ["NO", "PLN", "SLN", "NO (train)", "PLN (train)", "SLN (train)"], "range": [[1, 0], [1, 0], [1, 0], [4, 2], [4, 2], [4, 2]]},
     "legend": {"orient": "none", "legendX": 122.5, "legendY": 10.6, "columns": 2, "columnPadding": 8, "rowPadding": 1, "symbolType": "M-1.5,0H1.5", "symbolSize": 100, "symbolStrokeWidth": 1.3, "labelOffset": 8, "labelExpr": "indexof(datum.label,'train')>=0?'(train)':datum.label", "title": null, "padding": 0}}
   }
  },
  {
   "width": 233, "height": 169,
   "data": {"name": "d3"},
   "title": "MNIST MLP - S1",
   "mark": {"type": "line", "strokeWidth": 1.2, "clip": true},
   "encoding": {
    "x": {"field": "x", "type": "quantitative", "scale": {"domain": [-100, 2100], "nice": false, "zero": false}, "axis": {"title": "Epochs", "format": "d", "values": [0, 250, 500, 750, 1000, 1250, 1500, 1750, 2000]}},
    "y": {"field": "y", "type": "quantitative", "scale": {"domain": [-0.032, 0.647], "nice": false, "zero": false}, "axis": {"title": "Train Loss", "values": [0, 0.1, 0.2, 0.3, 0.4, 0.5, 0.6], "format": ".1f"}},
    "color": {"field": "s", "type": "nominal", "scale": {"domain": ["NO (nlp=5)", "SLN (nlp=5)", "PLN (nlp=5)", "NO (nlp=20)", "SLN (nlp=20)", "PLN (nlp=20)", "NO (nlp=500)", "SLN (nlp=500)", "PLN (nlp=500)"], "range": ["#000000", "#0000ff", "#00ffff", "#000000", "#0000ff", "#00ffff", "#000000", "#0000ff", "#00ffff"]},
     "legend": {"orient": "none", "legendX": 60, "legendY": 5.3, "columns": 2, "columnPadding": 8, "rowPadding": 1, "symbolType": "M-1.5,0H1.5", "symbolSize": 100, "symbolStrokeWidth": 1.3, "labelOffset": 8, "title": null, "padding": 0}},
    "strokeDash": {"field": "s", "type": "nominal", "scale": {"domain": ["NO (nlp=5)", "SLN (nlp=5)", "PLN (nlp=5)", "NO (nlp=20)", "SLN (nlp=20)", "PLN (nlp=20)", "NO (nlp=500)", "SLN (nlp=500)", "PLN (nlp=500)"], "range": [[1, 0], [1, 0], [1, 0], [4, 2], [4, 2], [4, 2], [1.2, 2], [1.2, 2], [1.2, 2]]},
     "legend": {"orient": "none", "legendX": 60, "legendY": 5.3, "columns": 2, "columnPadding": 8, "rowPadding": 1, "symbolType": "M-1.5,0H1.5", "symbolSize": 100, "symbolStrokeWidth": 1.3, "labelOffset": 8, "title": null, "padding": 0}}
   }
  },
  {
   "width": 75, "height": 169,
   "view": {"stroke": null, "fill": "white"},
   "data": {"values": [{"t": "DENSE"}]},
   "mark": {"type": "text", "font": "Liberation Serif", "fontSize": 21, "color": "#000", "align": "left"},
   "encoding": {"text": {"field": "t"}, "x": {"datum": 0.2133, "type": "quantitative", "scale": {"domain": [0, 1]}, "axis": null}, "y": {"datum": 0.426, "type": "quantitative", "scale": {"domain": [0, 1]}, "axis": null}}
  },
  {
   "width": 233, "height": 169,
   "data": {"name": "d4"},
   "title": "MNIST MLP - S2 (nlp=12)",
   "mark": {"type": "line", "strokeWidth": 1.2, "clip": true},
   "encoding": {
    "x": {"field": "x", "type": "quantitative", "scale": {"domain": [-100, 2100], "nice": false, "zero": false}, "axis": {"title": "Epochs", "format": "d", "values": [0, 250, 500, 750, 1000, 1250, 1500, 1750, 2000]}},
    "y": {"field": "y", "type": "quantitative", "scale": {"domain": [-0.024, 0.505], "nice": false, "zero": false}, "axis": {"title": "Errors", "values": [0, 0.1, 0.2, 0.3, 0.4, 0.5], "format": ".1f"}},
    "color": {"field": "s", "type": "nominal", "scale": {"domain": ["NO", "PLN", "SLN", "NO (train)", "PLN (train)", "SLN (train)"], "range": ["#000000", "#00ffff", "#0000ff", "#000000", "#00ffff", "#0000ff"]},
     "legend": {"orient": "none", "legendX": 130, "legendY": 5, "columns": 2, "columnPadding": 8, "rowPadding": 1, "symbolType": "M-1.5,0H1.5", "symbolSize": 100, "symbolStrokeWidth": 1.3, "labelOffset": 8, "labelExpr": "indexof(datum.label,'train')>=0?'(train)':datum.label", "title": null, "padding": 0}},
    "strokeDash": {"field": "s", "type": "nominal", "scale": {"domain": ["NO", "PLN", "SLN", "NO (train)", "PLN (train)", "SLN (train)"], "range": [[1, 0], [1, 0], [1, 0], [4, 2], [4, 2], [4, 2]]},
     "legend": {"orient": "none", "legendX": 130, "legendY": 5, "columns": 2, "columnPadding": 8, "rowPadding": 1, "symbolType": "M-1.5,0H1.5", "symbolSize": 100, "symbolStrokeWidth": 1.3, "labelOffset": 8, "labelExpr": "indexof(datum.label,'train')>=0?'(train)':datum.label", "title": null, "padding": 0}}
   }
  },
  {
   "width": 233, "height": 169,
   "data": {"name": "d5"},
   "title": "MNIST MLP - S2 (nlp=300)",
   "mark": {"type": "line", "strokeWidth": 1.2, "clip": true},
   "encoding": {
    "x": {"field": "x", "type": "quantitative", "scale": {"domain": [-100, 2100], "nice": false, "zero": false}, "axis": {"title": "Epochs", "format": "d", "values": [0, 250, 500, 750, 1000, 1250, 1500, 1750, 2000]}},
    "y": {"field": "y", "type": "quantitative", "scale": {"domain": [-0.025, 0.472], "nice": false, "zero": false}, "axis": {"title": "Errors", "values": [0, 0.1, 0.2, 0.3, 0.4], "format": ".1f"}},
    "color": {"field": "s", "type": "nominal", "scale": {"domain": ["NO", "PLN", "SLN", "NO (train)", "PLN (train)", "SLN (train)"], "range": ["#000000", "#00ffff", "#0000ff", "#000000", "#00ffff", "#0000ff"]},
     "legend": {"orient": "none", "legendX": 129, "legendY": 5, "columns": 2, "columnPadding": 8, "rowPadding": 1, "symbolType": "M-1.5,0H1.5", "symbolSize": 100, "symbolStrokeWidth": 1.3, "labelOffset": 8, "labelExpr": "indexof(datum.label,'train')>=0?'(train)':datum.label", "title": null, "padding": 0}},
    "strokeDash": {"field": "s", "type": "nominal", "scale": {"domain": ["NO", "PLN", "SLN", "NO (train)", "PLN (train)", "SLN (train)"], "range": [[1, 0], [1, 0], [1, 0], [4, 2], [4, 2], [4, 2]]},
     "legend": {"orient": "none", "legendX": 129, "legendY": 5, "columns": 2, "columnPadding": 8, "rowPadding": 1, "symbolType": "M-1.5,0H1.5", "symbolSize": 100, "symbolStrokeWidth": 1.3, "labelOffset": 8, "labelExpr": "indexof(datum.label,'train')>=0?'(train)':datum.label", "title": null, "padding": 0}}
   }
  },
  {
   "width": 233, "height": 169,
   "data": {"name": "d6"},
   "title": "MNIST MLP - S2",
   "mark": {"type": "line", "strokeWidth": 1.2, "clip": true},
   "encoding": {
    "x": {"field": "x", "type": "quantitative", "scale": {"domain": [-100, 2100], "nice": false, "zero": false}, "axis": {"title": "Epochs", "format": "d", "values": [0, 250, 500, 750, 1000, 1250, 1500, 1750, 2000]}},
    "y": {"field": "y", "type": "quantitative", "scale": {"domain": [-0.036, 0.72], "nice": false, "zero": false}, "axis": {"title": "Train Loss", "values": [0, 0.1, 0.2, 0.3, 0.4, 0.5, 0.6, 0.7], "format": ".1f"}},
    "color": {"field": "s", "type": "nominal", "scale": {"domain": ["NO (nlp=5)", "SLN (nlp=5)", "PLN (nlp=5)", "NO (nlp=20)", "SLN (nlp=20)", "PLN (nlp=20)", "NO (nlp=500)", "SLN (nlp=500)", "PLN (nlp=500)"], "range": ["#000000", "#0000ff", "#00ffff", "#000000", "#0000ff", "#00ffff", "#000000", "#0000ff", "#00ffff"]},
     "legend": {"orient": "none", "legendX": 60, "legendY": 5, "columns": 2, "columnPadding": 8, "rowPadding": 1, "symbolType": "M-1.5,0H1.5", "symbolSize": 100, "symbolStrokeWidth": 1.3, "labelOffset": 8, "title": null, "padding": 0}},
    "strokeDash": {"field": "s", "type": "nominal", "scale": {"domain": ["NO (nlp=5)", "SLN (nlp=5)", "PLN (nlp=5)", "NO (nlp=20)", "SLN (nlp=20)", "PLN (nlp=20)", "NO (nlp=500)", "SLN (nlp=500)", "PLN (nlp=500)"], "range": [[1, 0], [1, 0], [1, 0], [4, 2], [4, 2], [4, 2], [1.2, 2], [1.2, 2], [1.2, 2]]},
     "legend": {"orient": "none", "legendX": 60, "legendY": 5, "columns": 2, "columnPadding": 8, "rowPadding": 1, "symbolType": "M-1.5,0H1.5", "symbolSize": 100, "symbolStrokeWidth": 1.3, "labelOffset": 8, "title": null, "padding": 0}}
   }
  }
 ]
}
]
}
